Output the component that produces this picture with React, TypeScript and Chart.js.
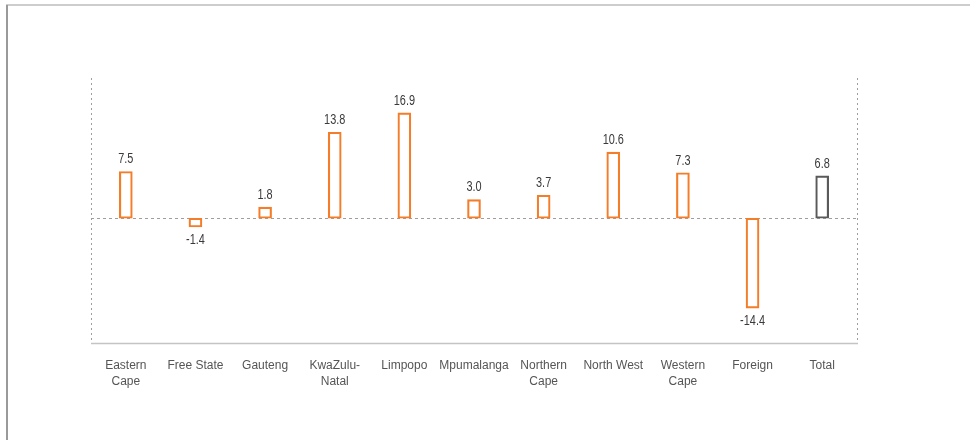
import React, { useEffect, useRef } from "react";
import { Chart, registerables } from "chart.js";

Chart.register(...registerables);

const categories: string[][] = [
  ["Eastern", "Cape"],
  ["Free State"],
  ["Gauteng"],
  ["KwaZulu-", "Natal"],
  ["Limpopo"],
  ["Mpumalanga"],
  ["Northern", "Cape"],
  ["North West"],
  ["Western", "Cape"],
  ["Foreign"],
  ["Total"],
];
const values: number[] = [7.5, -1.4, 1.8, 13.8, 16.9, 3.0, 3.7, 10.6, 7.3, -14.4, 6.8];
const yMin = -20;
const yMax = 22.5;

const ORANGE = "#f47d2a";
const GREY_BAR = "#5a5a5a";

const decorPlugin = {
  id: "decor",
  beforeDatasetsDraw(chart: any) {
    const { ctx, chartArea } = chart;
    const y = chart.scales.y;
    const zeroY = Math.round(y.getPixelForValue(0)) + 0.5;
    ctx.save();
    ctx.strokeStyle = "#9e9e9e";
    ctx.lineWidth = 1;
    ctx.setLineDash([3, 3]);
    ctx.beginPath();
    ctx.moveTo(chartArea.left, zeroY);
    ctx.lineTo(chartArea.right, zeroY);
    ctx.stroke();
    ctx.setLineDash([2, 3]);
    ctx.beginPath();
    const lx = Math.round(chartArea.left) + 0.5;
    const rx = Math.round(chartArea.right) + 0.5;
    ctx.moveTo(lx, chartArea.top);
    ctx.lineTo(lx, chartArea.bottom);
    ctx.moveTo(rx, chartArea.top);
    ctx.lineTo(rx, chartArea.bottom);
    ctx.stroke();
    ctx.setLineDash([]);
    ctx.strokeStyle = "#c4c4c4";
    ctx.lineWidth = 1.5;
    ctx.beginPath();
    ctx.moveTo(chartArea.left, chartArea.bottom + 0.5);
    ctx.lineTo(chartArea.right + 1, chartArea.bottom + 0.5);
    ctx.stroke();
    ctx.restore();
  },
  afterDatasetsDraw(chart: any) {
    const { ctx } = chart;
    const meta = chart.getDatasetMeta(0);
    const sx = 0.78;
    ctx.save();
    ctx.font = '14px "Liberation Sans", Arial, sans-serif';
    ctx.fillStyle = "#3a3a3a";
    ctx.textAlign = "center";
    ctx.textBaseline = "middle";
    meta.data.forEach((bar: any, i: number) => {
      const v = values[i];
      const label = v.toFixed(1);
      const yy = v >= 0 ? bar.y - 12 : bar.y + 13;
      ctx.save();
      ctx.translate(bar.x, yy);
      ctx.scale(sx, 1);
      ctx.fillText(label, 0, 0);
      ctx.restore();
    });
    ctx.restore();
  },
};

export default function App() {
  const ref = useRef<HTMLCanvasElement | null>(null);
  useEffect(() => {
    if (!ref.current) return;
    const chart = new Chart(ref.current, {
      type: "bar",
      data: {
        labels: categories,
        datasets: [
          {
            data: values,
            backgroundColor: "rgba(255,255,255,0)",
            borderColor: values.map((_, i) => (i === values.length - 1 ? GREY_BAR : ORANGE)),
            borderWidth: 1.5,
            borderSkipped: false,
            barThickness: 13,
          },
        ],
      },
      options: {
        animation: false,
        responsive: false,
        maintainAspectRatio: false,
        layout: { padding: { left: 91, right: 113, top: 78, bottom: 35 } },
        plugins: { legend: { display: false }, tooltip: { enabled: false } },
        scales: {
          x: {
            grid: { display: false, drawTicks: false },
            border: { display: false },
            ticks: {
              padding: 15,
              color: "#555",
              font: { family: "'Liberation Sans', Arial, sans-serif", size: 12, lineHeight: 16 / 12 },
              maxRotation: 0,
              autoSkip: false,
            },
          },
          y: {
            display: false,
            min: yMin,
            max: yMax,
          },
        },
      },
      plugins: [decorPlugin],
    });
    return () => chart.destroy();
  }, []);
  return (
    <div style={{ position: "fixed", left: 0, top: 0, width: 970, height: 440, background: "#fff" }}>
      <div style={{ position: "absolute", left: 6, top: 4, right: 0, height: 2, background: "#cdcdcd" }} />
      <div style={{ position: "absolute", left: 6, top: 5, bottom: 0, width: 1.5, background: "#9a9a9a" }} />
      <canvas ref={ref} width={970} height={440} style={{ position: "absolute", left: 0, top: 0 }} />
    </div>
  );
}
